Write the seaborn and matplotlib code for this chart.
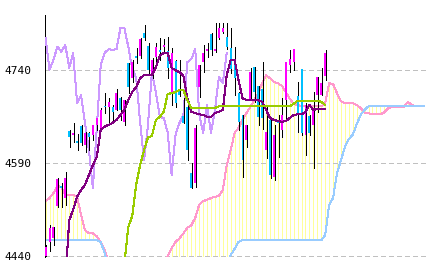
import matplotlib
matplotlib.use("Agg")
import matplotlib.pyplot as plt
import seaborn as sns
import numpy as np
import pandas as pd

# ---------------- data ----------------
opens = [4441, 4463, 4470, 4521, 4553, 4534, 4642, 4636, 4626, 4650,
         4620, 4639, 4636, 4652, 4647, 4682, 4681, 4681, 4676, 4695,
         4657, 4752, 4728, 4763, 4763, 4800, 4779, 4732, 4761, 4773,
         4777, 4771, 4703, 4755, 4706, 4666, 4681, 4574, 4558, 4713,
         4753, 4771, 4798, 4771, 4792, 4802, 4794, 4776, 4757, 4703,
         4668, 4628, 4692, 4745, 4715, 4710, 4611, 4660, 4568, 4660,
         4644, 4692, 4749, 4753, 4698, 4742, 4636, 4666, 4652, 4700,
         4700, 4731]
highs = [4458, 4490, 4487, 4566, 4558, 4576, 4644, 4655, 4637, 4652,
         4640, 4640, 4652, 4663, 4679, 4703, 4695, 4684, 4710, 4697,
         4692, 4752, 4757, 4776, 4792, 4813, 4784, 4760, 4784, 4792,
         4790, 4794, 4776, 4757, 4757, 4695, 4692, 4590, 4651, 4748,
         4781, 4784, 4800, 4816, 4816, 4816, 4816, 4808, 4777, 4705,
         4668, 4652, 4743, 4745, 4715, 4753, 4684, 4662, 4651, 4668,
         4695, 4753, 4773, 4774, 4721, 4742, 4688, 4668, 4705, 4729,
         4743, 4773]
lows = [4440, 4448, 4458, 4520, 4520, 4523, 4616, 4624, 4612, 4620,
        4608, 4612, 4628, 4644, 4647, 4671, 4657, 4657, 4676, 4660,
        4652, 4703, 4721, 4752, 4760, 4789, 4736, 4728, 4749, 4756,
        4768, 4728, 4684, 4680, 4698, 4655, 4595, 4550, 4552, 4697,
        4737, 4761, 4765, 4770, 4790, 4800, 4775, 4736, 4700, 4644,
        4568, 4616, 4692, 4689, 4652, 4646, 4598, 4567, 4563, 4600,
        4632, 4660, 4737, 4740, 4640, 4635, 4603, 4635, 4582, 4672,
        4700, 4724]
closes = [4455, 4486, 4487, 4565, 4550, 4566, 4632, 4639, 4623, 4623,
          4639, 4632, 4652, 4663, 4676, 4681, 4689, 4673, 4703, 4676,
          4692, 4713, 4753, 4760, 4790, 4792, 4741, 4757, 4778, 4770,
          4781, 4744, 4768, 4687, 4700, 4655, 4611, 4550, 4647, 4748,
          4768, 4774, 4773, 4774, 4808, 4808, 4778, 4742, 4728, 4657,
          4595, 4652, 4737, 4705, 4665, 4663, 4640, 4571, 4636, 4655,
          4668, 4753, 4758, 4774, 4670, 4639, 4684, 4639, 4676, 4729,
          4719, 4768]

# conversion line (9) from bar 5, base line (26) from bar 20
tenkan = [4400, 4498, 4515, 4536, 4547, 4555, 4571, 4587, 4600, 4644,
          4649, 4652, 4655, 4660, 4668, 4676, 4692, 4705, 4713, 4727,
          4732, 4732, 4732, 4745, 4764, 4768, 4768, 4744, 4740, 4737,
          4731, 4695, 4673, 4671, 4669, 4668, 4665, 4665, 4671, 4673,
          4676, 4732, 4757, 4757, 4724, 4695, 4692, 4692, 4692, 4692,
          4689, 4676, 4663, 4660, 4658, 4657, 4658, 4663, 4668, 4669,
          4669, 4673, 4684, 4676, 4678, 4678, 4678]
kijun = [4428, 4487, 4505, 4555, 4587, 4611, 4632, 4634, 4660, 4665,
         4673, 4702, 4703, 4705, 4708, 4708, 4692, 4679, 4679, 4679,
         4679, 4679, 4679, 4679, 4682, 4682, 4682, 4682, 4682, 4682,
         4682, 4682, 4682, 4682, 4682, 4682, 4682, 4682, 4682, 4682,
         4682, 4682, 4682, 4686, 4691, 4691, 4691, 4691, 4691, 4691,
         4689, 4684]
# lagging span (closes drawn 25 bars back)
chikou = [4792, 4741, 4757, 4778, 4770, 4781, 4744, 4768, 4687, 4700,
          4655, 4611, 4550, 4647, 4748, 4768, 4774, 4773, 4774, 4808,
          4808, 4778, 4742, 4728, 4657, 4595, 4652, 4737, 4705, 4665,
          4663, 4640, 4571, 4636, 4655, 4668, 4753, 4758, 4774, 4670,
          4639, 4684, 4639, 4676, 4729, 4719, 4768]
# leading spans (bars 0..96); values under 4440 lie below the visible range
span_a = [4529, 4534, 4542, 4553, 4552, 4539, 4539, 4539, 4536, 4507,
          4482, 4477, 4477, 4472, 4463, 4450, 4432, 4420, 4420, 4420,
          4420, 4420, 4420, 4420, 4420, 4420, 4420, 4420, 4420, 4420,
          4420, 4440, 4453, 4463, 4469, 4477, 4486, 4490, 4502, 4523,
          4529, 4531, 4534, 4536, 4537, 4547, 4587, 4611, 4639, 4647,
          4660, 4671, 4681, 4692, 4703, 4719, 4732, 4727, 4721, 4719,
          4715, 4705, 4694, 4686, 4684, 4682, 4682, 4682, 4682, 4682,
          4682, 4687, 4719, 4718, 4703, 4690, 4687, 4687, 4687, 4684,
          4679, 4672, 4671, 4669, 4669, 4669, 4672, 4679, 4681, 4681,
          4681, 4681, 4689, 4684, 4682, 4682, 4682]
span_b = [4466, 4466, 4466, 4466, 4466, 4466, 4466, 4466, 4466, 4466,
          4466, 4466, 4466, 4466, 4463, 4445, 4420, 4400, 4400, 4400,
          4400, 4400, 4400, 4400, 4400, 4400, 4400, 4400, 4400, 4400,
          4400, 4400, 4400, 4400, 4400, 4400, 4400, 4400, 4400, 4400,
          4400, 4400, 4400, 4400, 4400, 4400, 4420, 4442, 4452, 4463,
          4466, 4466, 4466, 4466, 4466, 4466, 4466, 4466, 4466, 4466,
          4466, 4466, 4466, 4466, 4466, 4466, 4466, 4466, 4466, 4466,
          4466, 4474, 4523, 4534, 4574, 4595, 4616, 4629, 4636, 4653,
          4668, 4676, 4682, 4682, 4682, 4682, 4682, 4682, 4682, 4682,
          4682, 4682, 4682, 4682, 4682, 4682, 4682]
ytick_values = [4440, 4590, 4740]
ytick_labels = ["4440", "4590", "4740"]

# ---------------- style ----------------
sns.set_style("white")
plt.rcParams["font.family"] = ["DejaVu Sans Mono", "DejaVu Sans"]
plt.rcParams["lines.scale_dashes"] = False

C_UP = "#ff00ff"
C_DN = "#00c0ff"
C_TENKAN = "#800080"
C_KIJUN = "#99cc00"
C_CHIKOU = "#cc99ff"
C_SPAN_A = "#ff99cc"
C_SPAN_B = "#99ccff"
C_CLOUD = "#ffff99"
PX = 0.72  # one pixel in points at 100 dpi

fig = plt.figure(figsize=(4.33, 2.70), dpi=100)
W, H = 433, 270
ax = fig.add_axes([45 / W, 1 - 257.2 / H, 381 / W, (257.2 - 14.5) / H])

n = len(closes)
bars = np.arange(n)
fut = np.arange(len(span_a))

# cloud hatching
ax.vlines(fut, np.minimum(span_a, span_b), np.maximum(span_a, span_b),
          color=C_CLOUD, linewidth=PX, antialiased=False, zorder=1)

# grid
for v in ytick_values:
    ax.axhline(v, color="#c0c0c0", linewidth=PX, dashes=(2.9, 2.2),
               antialiased=False, zorder=1.5)

df_a = pd.DataFrame({"bar": fut, "v": span_a})
df_b = pd.DataFrame({"bar": fut, "v": span_b})
sns.lineplot(data=df_a, x="bar", y="v", ax=ax, color=C_SPAN_A, linewidth=PX,
             antialiased=False, estimator=None, sort=False, zorder=2)
sns.lineplot(data=df_b, x="bar", y="v", ax=ax, color=C_SPAN_B, linewidth=PX,
             antialiased=False, estimator=None, sort=False, zorder=2)

df_c = pd.DataFrame({"bar": np.arange(len(chikou)), "v": chikou})
sns.lineplot(data=df_c, x="bar", y="v", ax=ax, color=C_CHIKOU, linewidth=PX,
             antialiased=False, estimator=None, sort=False, zorder=3)

# candles
o = np.array(opens); c = np.array(closes)
hi = np.array(highs); lo = np.array(lows)
up = c >= o
ax.vlines(bars + 0.15, lo, hi, color="black", linewidth=PX,
          antialiased=False, zorder=4)
ax.bar(bars[up], (c - o)[up], bottom=o[up], width=0.5, color=C_UP,
       linewidth=0, antialiased=False, zorder=5)
ax.bar(bars[~up], (o - c)[~up], bottom=c[~up], width=0.5, color=C_DN,
       linewidth=0, antialiased=False, zorder=5)

df_t = pd.DataFrame({"bar": np.arange(5, 5 + len(tenkan)), "v": tenkan})
df_k = pd.DataFrame({"bar": np.arange(20, 20 + len(kijun)), "v": kijun})
sns.lineplot(data=df_t, x="bar", y="v", ax=ax, color=C_TENKAN, linewidth=1.1 * PX,
             antialiased=False, estimator=None, sort=False, zorder=6)
sns.lineplot(data=df_k, x="bar", y="v", ax=ax, color=C_KIJUN, linewidth=1.1 * PX,
             antialiased=False, estimator=None, sort=False, zorder=7)

ax.set_xlim(-0.15, 96.6)
ax.set_ylim(4438.5, 4830)
ax.set_xlabel("")
ax.set_ylabel("")
ax.set_xticks([])
ax.set_yticks(ytick_values)
ax.set_yticklabels(ytick_labels)
ax.tick_params(axis="y", direction="in", length=2.9, width=PX, color="black",
               labelsize=8, pad=10, labelcolor="black")
for s in ["top", "right", "bottom"]:
    ax.spines[s].set_visible(False)
ax.spines["left"].set_color("black")
ax.spines["left"].set_linewidth(PX)
ax.set_facecolor("white")
ax.grid(False)

fig.savefig("out.png", dpi=100, facecolor="white")
